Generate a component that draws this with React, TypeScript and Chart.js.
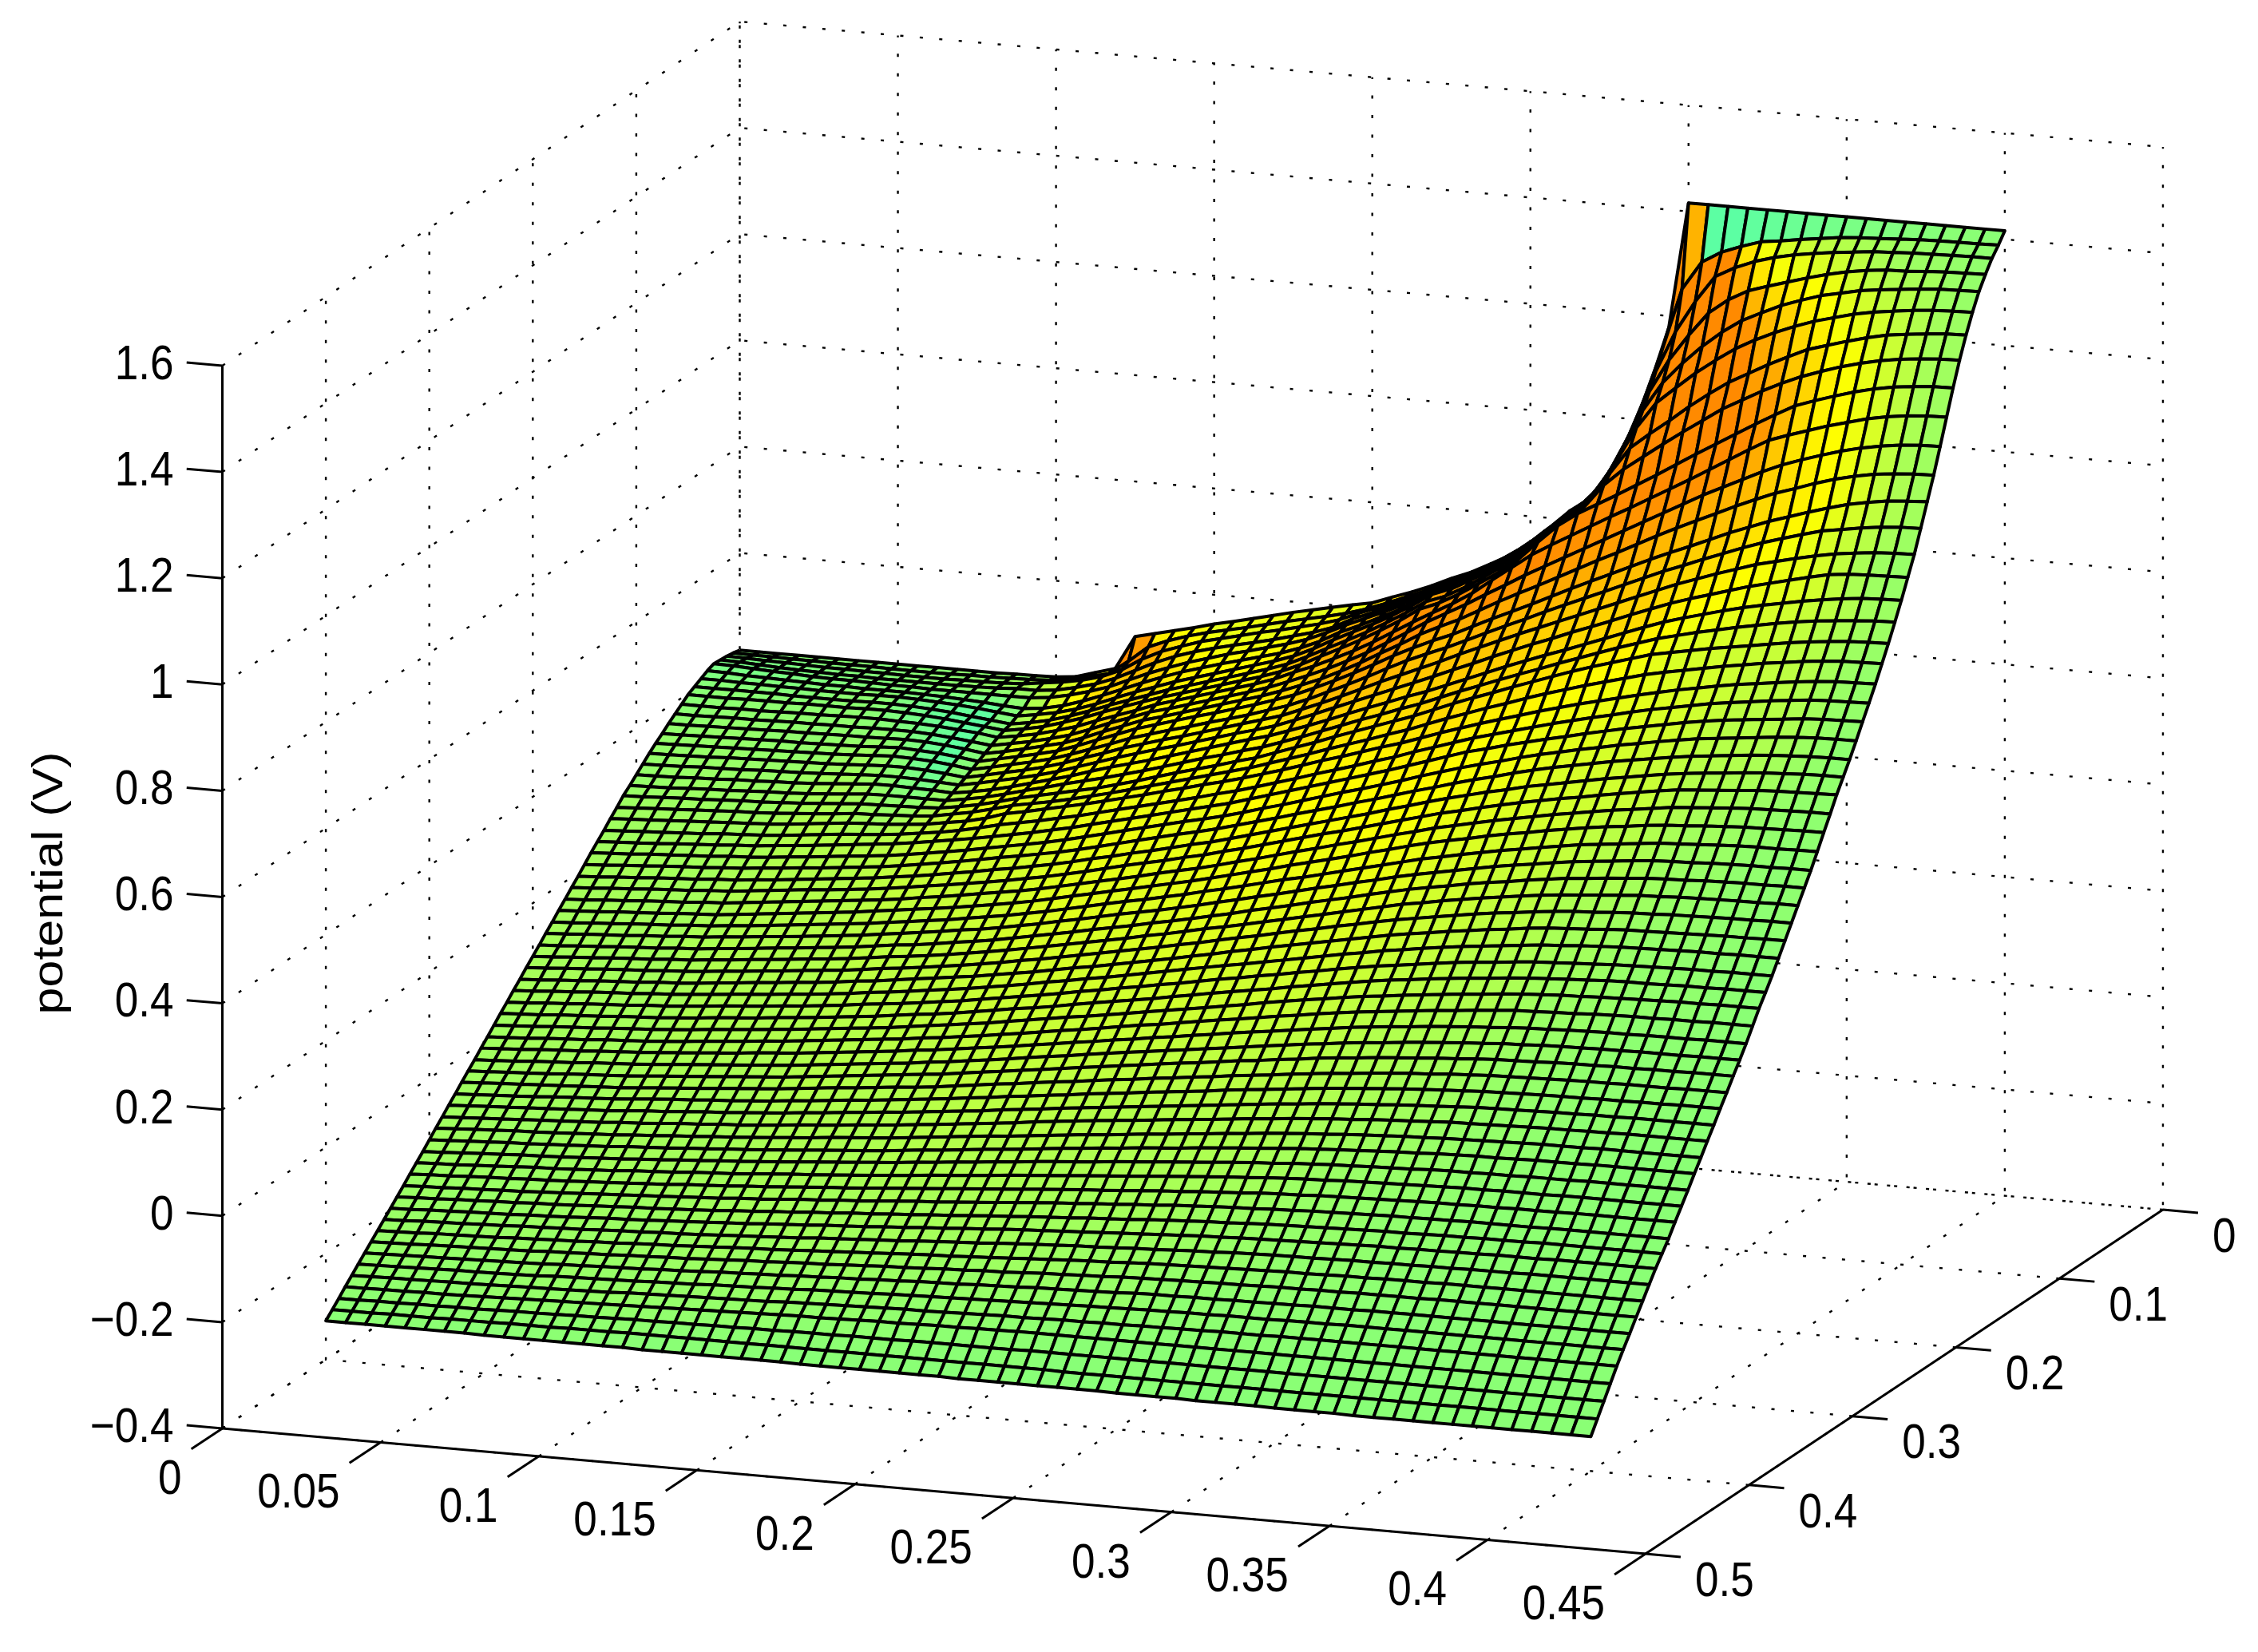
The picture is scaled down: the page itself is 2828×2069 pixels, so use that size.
import { useEffect, useRef } from 'react';
import { Chart, registerables } from 'chart.js';

Chart.register(...registerables);

const WIDTH = 2828;
const HEIGHT = 2069;

const xTicks = [0, 0.05, 0.1, 0.15, 0.2, 0.25, 0.3, 0.35, 0.4, 0.45];
const xTickLabels = ['0', '0.05', '0.1', '0.15', '0.2', '0.25', '0.3', '0.35', '0.4', '0.45'];
const yTicks = [0, 0.1, 0.2, 0.3, 0.4, 0.5];
const yTickLabels = ['0', '0.1', '0.2', '0.3', '0.4', '0.5'];
const zTicks = [-0.4, -0.2, 0, 0.2, 0.4, 0.6, 0.8, 1, 1.2, 1.4, 1.6];
const zTickLabels = ['\u22120.4', '\u22120.2', '0', '0.2', '0.4', '0.6', '0.8', '1', '1.2', '1.4', '1.6'];

const xGrid = [
  0, 0.00625, 0.0125, 0.01875, 0.025, 0.03125, 0.0375, 0.04375, 0.05, 0.05625, 0.0625, 0.06875, 0.075, 0.08125, 0.0875, 0.09375,
  0.1, 0.10625, 0.1125, 0.11875, 0.125, 0.13125, 0.1375, 0.14375, 0.15, 0.15625, 0.1625, 0.16875, 0.175, 0.18125, 0.1875, 0.19375,
  0.2, 0.20625, 0.2125, 0.21875, 0.225, 0.23125, 0.2375, 0.24375, 0.25, 0.25625, 0.2625, 0.26875, 0.275, 0.28125, 0.2875, 0.29375,
  0.3, 0.30625, 0.3125, 0.31875, 0.325, 0.33125, 0.3375, 0.34375, 0.35, 0.35625, 0.3625, 0.36875, 0.375, 0.38125, 0.3875, 0.39375, 0.4,
];
const yGrid = xGrid;

// potential in mV, one row per yGrid value, estimated from the mesh
const potentialRows = [
  [417,417,417,417,417,417,417,417,417,417,417,417,417,417,418,418,419,423,434,445,508,517,526,535,545,553,562,571,580,588,596,604,611,625,638,653,670,685,704,724,750,783,817,843,898,969,1062,1178,1416,1416,1416,1416,1416,1416,1416,1416,1416,1416,1416,1416,1416,1416,1416,1416,1416],
  [420,419,419,418,418,417,417,417,416,416,416,416,417,417,418,419,421,426,434,443,470,500,515,527,537,545,553,562,571,579,587,596,607,621,636,651,668,686,706,726,750,782,812,842,880,950,1040,1145,1262,1316,1338,1352,1364,1369,1375,1380,1385,1388,1390,1392,1394,1395,1396,1396,1397],
  [422,421,420,419,418,417,417,416,416,415,415,415,416,416,417,419,424,429,436,446,462,485,503,516,528,537,546,555,563,572,581,592,608,622,638,654,670,690,708,728,752,780,810,842,875,938,1015,1112,1190,1250,1300,1320,1335,1346,1354,1360,1365,1369,1373,1375,1377,1378,1379,1380,1380],
  [423,422,420,418,417,416,415,415,414,414,414,414,414,415,416,418,418,422,430,440,454,472,490,505,517,527,536,544,553,563,573,586,605,620,636,652,670,692,710,730,752,778,808,843,872,925,998,1082,1145,1195,1240,1268,1288,1300,1311,1322,1332,1340,1346,1350,1351,1354,1356,1357,1358],
  [424,423,421,419,418,416,415,415,414,413,413,412,412,412,412,412,412,416,424,434,446,462,478,492,505,516,527,536,546,556,568,584,602,618,634,651,670,692,710,730,752,776,805,840,868,915,980,1055,1110,1150,1185,1215,1240,1258,1275,1288,1300,1308,1316,1321,1325,1329,1332,1333,1334],
  [419,418,416,415,414,413,412,412,411,411,411,410,409,407,405,402,400,404,412,424,438,453,468,482,495,506,517,527,537,547,560,576,596,612,630,648,669,692,708,728,750,774,802,838,868,907,965,1030,1080,1112,1143,1170,1195,1215,1232,1247,1260,1270,1280,1287,1292,1297,1300,1302,1303],
  [412,412,411,411,410,410,409,409,409,410,410,409,407,405,402,398,394,400,407,417,430,445,459,472,485,496,507,518,529,540,553,570,590,608,626,646,668,692,706,726,748,772,800,836,868,898,950,1000,1030,1058,1088,1115,1140,1160,1180,1198,1215,1226,1237,1247,1255,1260,1264,1267,1268],
  [405,405,405,405,405,404,404,404,404,405,405,404,402,399,395,391,387,393,401,412,425,439,452,465,478,489,500,511,522,533,546,563,582,600,619,640,662,686,700,720,744,768,796,832,866,890,935,968,995,1022,1048,1073,1098,1118,1138,1156,1172,1185,1197,1207,1215,1221,1225,1228,1229],
  [398,398,398,399,399,399,400,400,400,401,401,400,398,395,391,387,383,389,397,408,420,434,447,460,472,483,494,505,516,527,540,556,575,593,612,633,655,680,695,715,738,762,790,826,860,886,907,928,950,972,995,1018,1040,1062,1084,1105,1125,1138,1150,1161,1170,1177,1181,1184,1185],
  [388,388,388,389,389,390,391,391,392,393,393,392,391,389,386,383,378,384,391,401,412,426,439,452,466,477,488,499,510,521,534,550,565,582,600,620,642,664,685,705,728,756,783,810,832,853,874,895,915,936,957,978,1000,1022,1044,1065,1078,1090,1102,1112,1122,1129,1134,1137,1138],
  [378,378,379,380,380,381,382,382,383,383,384,384,384,382,379,375,371,378,385,394,404,418,433,446,460,470,481,492,503,514,526,540,555,571,589,608,630,652,675,695,715,737,758,780,800,820,840,860,880,900,920,940,960,978,996,1014,1030,1043,1055,1066,1075,1082,1087,1090,1091],
  [368,368,369,370,371,372,373,373,374,375,375,376,377,376,373,369,364,371,379,388,397,410,425,439,453,463,474,485,496,507,518,531,545,560,578,597,618,638,660,678,695,715,735,754,772,791,810,829,847,866,885,903,920,937,954,970,985,997,1010,1021,1030,1037,1041,1044,1045],
  [357,358,359,360,361,362,363,363,364,365,366,368,370,368,366,362,357,365,373,381,390,403,417,431,445,456,467,478,488,499,510,522,535,551,568,586,605,625,643,660,675,693,711,728,745,763,781,798,815,832,849,865,880,896,912,926,940,952,964,975,985,992,998,1001,1003],
  [347,348,349,350,351,352,353,354,355,356,358,360,362,361,359,355,350,358,366,374,383,395,408,421,435,446,457,467,478,488,499,511,523,538,555,572,590,609,627,643,658,675,692,709,725,742,758,774,790,806,822,838,852,867,881,895,908,919,930,940,946,952,957,960,961],
  [336,337,338,339,341,342,343,344,345,346,348,350,352,352,350,347,343,351,359,367,376,387,400,412,425,436,447,457,468,479,490,501,512,527,542,558,575,592,608,624,640,657,673,689,705,720,735,750,765,780,795,810,825,838,851,863,875,884,893,901,908,913,917,919,920],
  [324,325,326,328,329,330,332,333,334,336,338,340,342,342,341,339,337,344,352,360,369,379,391,403,415,426,437,447,458,469,480,490,501,515,530,545,560,575,590,605,620,636,651,667,682,697,711,726,740,754,769,783,797,809,820,831,842,851,860,869,877,881,883,884,885],
  [312,313,314,316,317,319,320,322,323,325,328,331,334,334,333,332,330,336,343,352,362,372,382,394,405,415,425,436,447,458,469,480,490,503,516,530,545,559,573,587,600,615,630,645,660,674,688,701,715,729,743,757,770,781,791,801,810,818,825,832,838,843,847,849,850],
  [300,301,302,304,306,307,309,311,312,314,317,320,323,324,324,324,324,330,337,346,356,365,375,384,393,403,413,424,435,446,456,467,477,490,503,517,531,545,558,572,585,600,615,629,643,657,670,684,697,710,723,735,747,756,765,773,781,788,795,801,806,810,813,816,817],
  [289,290,292,294,295,297,299,300,302,304,307,310,313,314,315,316,318,324,331,340,350,358,366,374,382,392,402,413,424,434,444,455,465,478,491,504,518,531,544,557,570,585,600,614,627,641,654,667,680,692,703,714,725,732,739,746,752,758,764,770,775,779,782,784,785],
  [275,277,279,281,283,285,287,288,290,293,296,299,303,304,306,308,311,318,325,334,344,351,358,366,375,384,394,404,414,424,434,444,454,466,478,490,503,515,527,540,552,566,580,593,606,618,631,643,654,665,675,685,695,703,710,717,724,730,736,741,746,750,753,754,755],
  [262,264,266,268,270,272,274,276,278,281,285,289,293,295,297,300,304,310,316,325,337,344,352,360,368,377,386,395,405,414,424,433,443,454,465,477,489,500,512,524,535,548,561,573,585,596,607,618,628,638,647,656,665,673,681,688,695,701,706,711,716,720,723,724,725],
  [248,250,252,254,256,258,261,263,265,268,272,276,280,283,286,290,295,300,307,315,324,331,338,346,354,363,372,381,390,399,408,418,427,438,449,460,472,483,494,506,517,530,542,554,566,576,586,596,606,615,624,632,641,649,656,663,670,675,680,685,689,693,695,696,697],
  [235,237,239,241,244,246,248,251,253,257,260,264,268,272,276,280,285,291,297,303,310,317,324,332,340,349,358,367,376,385,394,403,412,423,434,445,456,467,478,489,500,512,524,536,548,557,567,576,585,593,602,610,618,625,632,639,645,650,654,658,662,666,668,669,670],
  [222,224,226,229,231,233,235,238,240,243,247,250,254,258,262,266,271,277,283,289,296,303,310,317,325,334,343,352,361,370,379,387,396,406,417,427,438,449,460,470,481,492,504,515,526,536,545,555,564,572,580,587,595,601,608,614,620,624,628,632,636,639,641,642,642],
  [208,210,213,215,218,220,222,225,227,231,234,238,241,245,249,253,258,264,270,276,283,290,296,303,310,318,327,336,345,354,363,371,380,390,400,410,421,431,441,452,462,473,484,494,505,515,524,534,543,551,558,565,572,578,584,590,595,599,603,607,610,612,614,615,615],
  [194,196,199,201,204,206,208,211,213,217,220,224,228,232,236,240,245,250,256,262,268,275,281,288,295,303,312,320,329,337,346,355,363,373,383,393,403,413,423,433,443,454,464,475,485,494,503,511,520,527,534,541,548,554,560,566,571,575,578,582,585,587,589,590,590],
  [181,183,186,188,191,193,195,198,200,204,208,212,216,219,223,227,232,237,243,248,254,260,266,273,280,288,296,305,314,322,330,339,347,357,366,376,386,396,406,415,425,435,445,455,465,473,482,490,498,505,512,518,525,531,537,543,548,551,554,557,560,562,563,564,565],
  [167,169,172,174,177,179,181,184,186,190,194,198,202,206,210,214,218,223,229,234,240,246,252,258,265,273,281,289,297,305,314,322,330,339,349,358,368,378,387,397,406,416,426,435,445,453,461,469,476,483,490,496,502,508,513,518,523,526,529,532,534,535,536,537,537],
  [154,156,158,161,163,165,168,170,172,176,180,184,188,192,196,200,205,210,215,220,225,231,237,243,250,258,266,274,282,290,298,306,314,323,332,341,350,360,369,378,387,397,406,416,425,433,440,448,455,461,468,474,480,485,489,494,498,500,503,505,507,508,509,510,510],
  [140,142,145,147,150,152,154,157,159,163,166,170,174,178,182,186,190,195,200,205,210,216,222,228,235,242,250,258,266,274,281,289,297,306,314,323,332,341,349,358,367,376,385,394,403,410,418,425,432,438,444,450,456,460,464,468,472,474,476,478,480,481,481,482,482],
  [127,129,132,134,136,139,141,144,146,150,153,157,160,164,168,172,176,181,186,191,196,202,207,213,220,227,235,242,250,258,265,272,280,288,297,305,314,322,331,340,348,357,365,374,382,389,396,403,410,416,421,427,432,436,440,444,447,449,450,452,453,454,454,455,455],
  [113,115,118,120,123,125,127,130,132,136,139,143,147,150,154,158,162,167,172,176,181,187,192,198,205,212,219,226,234,241,248,256,263,271,279,287,296,304,312,321,329,337,346,354,362,369,375,382,388,393,399,404,409,412,416,419,422,424,425,427,428,429,429,430,430],
  [100,102,105,107,110,112,114,117,119,123,126,130,133,137,141,144,148,153,158,162,167,172,178,184,190,197,204,211,218,225,232,240,247,255,263,270,278,286,294,302,310,318,326,334,342,348,355,361,367,372,377,382,386,389,392,395,398,399,401,402,403,404,404,405,405],
  [87,89,92,94,97,99,101,104,106,109,113,116,120,123,127,131,134,139,144,148,153,158,163,169,175,182,188,195,202,209,216,223,230,238,245,253,261,268,276,284,291,299,306,314,321,327,333,339,345,350,354,359,363,366,368,371,373,374,376,377,378,379,379,380,380],
  [73,75,78,80,83,85,87,90,92,95,99,102,106,109,113,116,120,125,129,134,139,144,149,154,160,166,172,179,186,192,199,206,213,220,228,235,243,250,258,265,272,279,286,293,300,306,311,317,322,327,331,336,340,342,344,347,349,350,351,352,353,354,354,355,355],
  [60,62,65,67,70,72,74,77,79,82,85,89,92,95,99,102,106,110,115,119,124,129,134,139,145,151,157,164,170,177,183,190,197,204,211,218,225,231,238,245,252,259,266,272,279,284,290,295,300,304,308,312,316,318,321,323,325,326,327,328,329,329,330,330,330],
  [46,48,51,53,56,58,60,63,65,68,71,75,78,81,85,88,92,96,101,105,109,114,119,124,130,136,142,148,154,161,167,174,180,187,193,200,207,213,220,226,233,239,246,252,258,263,268,273,278,282,285,289,292,294,296,298,300,301,302,303,304,304,305,305,305],
  [33,35,37,40,42,44,47,49,51,54,57,61,64,67,71,74,78,82,86,90,95,100,104,109,115,121,127,132,138,145,151,157,163,169,176,182,189,195,201,207,214,220,226,232,238,243,247,252,256,260,263,267,270,272,274,276,278,279,279,280,281,281,282,282,282],
  [19,21,23,26,28,30,33,35,37,40,43,47,50,53,57,60,64,68,72,76,80,85,90,95,100,105,111,117,123,129,134,140,146,152,158,164,170,176,182,189,195,201,206,212,217,221,226,230,234,238,241,245,248,250,252,253,255,256,257,258,259,259,260,260,260],
  [5,7,9,12,14,16,19,21,23,26,29,33,36,39,43,46,50,54,58,62,66,70,75,79,84,89,95,100,106,112,117,123,129,135,140,146,152,158,163,169,175,180,186,191,196,200,204,208,212,215,219,222,225,226,228,229,231,232,233,233,234,234,235,235,235],
  [-8,-6,-4,-1,1,3,6,8,10,13,16,19,22,25,29,32,35,39,43,47,51,55,60,64,69,74,79,84,90,95,101,106,112,117,123,128,134,139,145,150,155,160,165,170,175,179,183,186,190,193,196,198,201,203,204,206,207,208,208,209,209,209,210,210,210],
  [-22,-20,-18,-15,-13,-11,-8,-6,-4,-1,2,5,8,11,14,17,20,24,28,32,36,40,44,49,53,58,63,68,74,79,84,90,95,100,105,110,115,120,125,130,135,140,145,149,154,158,161,165,168,171,174,176,179,180,182,183,184,185,185,186,186,186,187,187,187],
  [-35,-33,-31,-29,-27,-24,-22,-20,-18,-15,-12,-9,-6,-3,0,3,6,10,14,18,22,26,30,34,38,43,48,53,58,63,68,73,78,83,88,93,98,102,107,112,116,121,125,130,134,137,141,144,147,150,152,155,157,158,159,161,162,162,163,163,164,164,165,165,165],
  [-48,-46,-44,-42,-40,-38,-36,-34,-32,-29,-26,-23,-20,-17,-14,-11,-8,-4,0,4,7,11,15,18,22,27,32,37,41,46,51,55,60,65,69,74,78,83,87,92,96,100,105,109,113,116,120,123,126,128,131,133,135,136,137,138,139,140,140,141,141,141,142,142,142],
  [-62,-60,-58,-56,-54,-51,-49,-47,-45,-42,-39,-36,-34,-31,-29,-26,-23,-19,-16,-12,-8,-5,-1,3,7,11,16,20,25,29,34,38,43,47,51,56,60,64,68,73,77,81,85,89,93,96,99,102,105,107,109,111,113,114,115,116,117,117,118,118,119,119,120,120,120],
  [-75,-73,-71,-69,-67,-65,-63,-61,-59,-56,-53,-51,-48,-45,-43,-40,-37,-34,-30,-27,-23,-20,-16,-13,-9,-5,-1,3,8,12,16,21,25,29,33,37,41,45,49,53,57,61,65,68,72,75,78,80,83,85,87,89,91,92,93,94,95,95,96,96,97,97,97,97,97],
  [-89,-87,-85,-83,-81,-79,-77,-75,-73,-70,-68,-65,-62,-60,-57,-55,-52,-49,-45,-42,-39,-35,-32,-29,-25,-21,-17,-13,-9,-5,0,4,8,12,16,19,23,27,31,34,38,42,45,49,52,55,57,60,62,64,66,68,69,70,71,72,73,73,74,74,75,75,75,75,75],
  [-102,-100,-98,-96,-94,-93,-91,-89,-87,-85,-82,-80,-77,-75,-72,-70,-67,-64,-61,-58,-54,-51,-48,-45,-41,-37,-33,-29,-25,-22,-18,-14,-10,-6,-3,1,5,8,12,15,19,22,26,29,32,34,37,39,41,43,44,46,47,48,49,50,51,51,51,52,52,52,52,52,52],
  [-116,-114,-112,-110,-108,-107,-105,-103,-101,-99,-96,-94,-92,-89,-87,-84,-82,-79,-76,-73,-70,-67,-64,-61,-57,-53,-50,-46,-42,-39,-35,-31,-27,-24,-20,-17,-13,-10,-7,-3,0,3,6,9,12,14,16,18,20,22,23,25,26,27,27,28,29,29,29,30,30,30,30,30,30],
  [-130,-128,-126,-124,-122,-120,-119,-117,-115,-113,-111,-108,-106,-103,-101,-98,-96,-93,-90,-87,-84,-81,-78,-75,-72,-68,-65,-61,-58,-54,-51,-47,-44,-41,-38,-34,-31,-28,-25,-22,-19,-16,-13,-11,-8,-6,-4,-3,-1,0,1,3,4,4,5,5,6,6,6,7,7,7,7,7,7],
  [-143,-141,-140,-138,-136,-134,-132,-131,-129,-127,-125,-122,-120,-118,-115,-113,-111,-108,-105,-102,-100,-97,-94,-91,-88,-85,-81,-78,-75,-72,-68,-65,-62,-59,-56,-53,-50,-47,-44,-41,-38,-35,-33,-30,-28,-26,-25,-23,-22,-21,-20,-19,-18,-17,-17,-16,-16,-16,-15,-15,-15,-15,-15,-15,-15],
  [-156,-154,-153,-151,-149,-148,-146,-145,-143,-141,-139,-137,-135,-133,-130,-128,-126,-123,-121,-118,-115,-112,-110,-107,-104,-101,-98,-95,-92,-89,-86,-83,-80,-77,-74,-72,-69,-66,-63,-61,-58,-56,-54,-51,-49,-48,-46,-45,-44,-43,-42,-41,-40,-40,-39,-39,-38,-38,-38,-37,-37,-37,-37,-37,-37],
  [-170,-168,-167,-165,-164,-162,-161,-159,-157,-155,-153,-151,-149,-147,-145,-143,-141,-138,-136,-133,-130,-128,-125,-123,-120,-117,-114,-112,-109,-106,-103,-100,-97,-94,-92,-89,-87,-84,-82,-79,-77,-75,-73,-72,-70,-69,-67,-66,-65,-64,-63,-63,-62,-62,-61,-61,-61,-61,-60,-60,-60,-60,-60,-60,-60],
  [-183,-181,-180,-178,-177,-175,-174,-172,-171,-169,-167,-165,-163,-162,-160,-158,-156,-153,-151,-148,-146,-143,-141,-138,-136,-133,-131,-128,-126,-123,-120,-118,-115,-113,-111,-108,-106,-104,-101,-99,-97,-95,-94,-92,-90,-89,-88,-87,-86,-85,-84,-84,-83,-82,-82,-81,-81,-81,-80,-80,-80,-80,-80,-80,-80],
  [-196,-195,-193,-192,-190,-189,-188,-186,-185,-183,-181,-179,-178,-176,-174,-172,-170,-168,-166,-163,-161,-159,-156,-154,-152,-149,-147,-144,-142,-139,-137,-134,-132,-130,-128,-126,-124,-122,-120,-118,-116,-114,-113,-111,-110,-109,-108,-107,-106,-105,-104,-104,-103,-103,-102,-102,-101,-101,-101,-100,-100,-100,-100,-100,-100],
  [-209,-208,-206,-205,-204,-202,-201,-199,-198,-196,-195,-193,-191,-190,-188,-187,-185,-183,-181,-179,-177,-175,-172,-170,-168,-166,-164,-161,-159,-157,-155,-152,-150,-148,-146,-144,-143,-141,-139,-138,-136,-134,-133,-131,-130,-129,-128,-128,-127,-126,-126,-125,-125,-124,-124,-123,-123,-123,-122,-122,-122,-122,-122,-122,-122],
  [-222,-221,-220,-218,-217,-216,-215,-213,-212,-210,-209,-207,-206,-204,-202,-201,-199,-197,-195,-193,-192,-190,-188,-186,-184,-182,-180,-178,-176,-175,-173,-171,-169,-167,-165,-163,-161,-160,-158,-156,-155,-154,-153,-152,-151,-150,-149,-149,-148,-147,-147,-146,-146,-146,-145,-145,-145,-145,-145,-145,-145,-145,-145,-145,-145],
  [-235,-234,-233,-231,-230,-229,-228,-227,-226,-224,-223,-221,-220,-218,-217,-215,-214,-212,-210,-208,-207,-205,-203,-202,-200,-198,-196,-195,-193,-191,-190,-188,-187,-185,-183,-182,-180,-179,-177,-176,-175,-174,-173,-172,-172,-171,-170,-170,-169,-169,-168,-168,-168,-168,-167,-167,-167,-167,-167,-167,-167,-167,-167,-167,-167],
  [-248,-247,-246,-245,-244,-243,-242,-241,-240,-239,-237,-236,-234,-233,-232,-230,-229,-227,-225,-224,-222,-221,-219,-218,-216,-215,-213,-212,-210,-209,-208,-206,-205,-204,-202,-201,-200,-199,-198,-196,-195,-195,-194,-194,-193,-193,-192,-192,-191,-191,-191,-190,-190,-190,-190,-190,-190,-190,-190,-190,-190,-190,-190,-190,-190],
  [-261,-260,-259,-258,-257,-256,-256,-255,-254,-253,-251,-250,-249,-248,-247,-245,-244,-243,-241,-240,-239,-237,-236,-234,-233,-232,-231,-229,-228,-227,-226,-225,-224,-223,-222,-221,-220,-219,-218,-217,-216,-216,-215,-215,-214,-214,-214,-213,-213,-213,-212,-212,-212,-212,-212,-212,-212,-212,-212,-212,-212,-212,-212,-212,-212],
  [-274,-273,-272,-272,-271,-270,-270,-269,-268,-267,-266,-265,-264,-263,-261,-260,-259,-258,-257,-256,-255,-254,-252,-251,-250,-249,-248,-247,-246,-246,-245,-244,-243,-242,-242,-241,-240,-240,-239,-239,-238,-238,-237,-237,-236,-236,-236,-235,-235,-235,-235,-235,-235,-235,-235,-235,-235,-235,-235,-235,-235,-235,-235,-235,-235],
  [-287,-287,-286,-286,-285,-285,-284,-283,-282,-281,-280,-279,-278,-277,-276,-275,-274,-273,-272,-271,-270,-269,-268,-267,-267,-266,-265,-264,-264,-263,-262,-262,-261,-261,-260,-260,-260,-260,-260,-260,-260,-260,-260,-260,-260,-260,-260,-260,-260,-260,-260,-260,-260,-260,-260,-260,-260,-260,-260,-260,-260,-260,-260,-260,-260],
  [-301,-301,-300,-300,-299,-299,-298,-298,-297,-296,-296,-295,-294,-294,-293,-292,-292,-291,-291,-290,-290,-289,-289,-288,-288,-288,-287,-287,-287,-286,-286,-286,-286,-286,-286,-285,-285,-285,-285,-285,-285,-285,-285,-285,-285,-285,-285,-285,-285,-285,-285,-285,-285,-285,-285,-285,-285,-285,-285,-285,-285,-285,-285,-285,-285],
  [-314,-314,-314,-313,-313,-313,-312,-312,-312,-311,-311,-311,-310,-310,-310,-309,-309,-309,-309,-309,-309,-309,-309,-309,-309,-309,-309,-309,-309,-309,-309,-309,-309,-309,-309,-309,-309,-310,-310,-310,-310,-310,-310,-310,-310,-310,-310,-310,-310,-310,-310,-310,-310,-310,-310,-310,-310,-310,-310,-310,-310,-310,-310,-310,-310],
  [-327,-327,-327,-327,-327,-327,-327,-327,-328,-328,-328,-328,-328,-328,-328,-328,-329,-329,-329,-329,-329,-329,-329,-329,-330,-330,-330,-330,-330,-330,-330,-330,-331,-331,-331,-331,-331,-331,-331,-331,-332,-332,-332,-332,-333,-333,-333,-333,-334,-334,-334,-334,-335,-335,-335,-335,-335,-335,-335,-335,-335,-335,-335,-335,-335],
];

// colour of the contact row, left to right from x = 0.3
const contactColors = [0.7, 0.465, 0.465, 0.47, 0.475, 0.48, 0.485, 0.49, 0.495, 0.5, 0.5, 0.505, 0.505, 0.51, 0.51, 0.51];

// view of the box: origin at x=0, y=0.5, z=-0.4, in canvas pixels
function project(x: number, y: number, z: number) {
  return {
    x: 278.5 + 3961 * x + 1296 * (0.5 - y),
    y: 1789 + 349 * x - 862 * (0.5 - y) - 665.5 * (z + 0.4),
  };
}

function jet(t: number) {
  const c = (v: number) => Math.round(255 * Math.max(0, Math.min(1, v)));
  const r = c(Math.min(4 * t - 1.5, 4.5 - 4 * t));
  const g = c(Math.min(4 * t - 0.5, 3.5 - 4 * t));
  const b = c(Math.min(4 * t + 0.5, 2.5 - 4 * t));
  return `rgb(${r},${g},${b})`;
}

// the reference colours the faces by the slope along x
function cellColor(i: number, j: number) {
  if (j === 0 && i >= 48) return jet(contactColors[i - 48]);
  const a = potentialRows[j];
  const b = potentialRows[j + 1];
  const lo = j === 0 ? i : Math.max(0, i - 1);
  const hi = j === 0 ? i + 1 : Math.min(xGrid.length - 1, i + 2);
  const slope = (a[hi] + b[hi] - a[lo] - b[lo]) / 2 / 1000 / (xGrid[hi] - xGrid[lo]);
  return jet(Math.max(0.46, Math.min(0.74, 0.51 + 0.068 * slope)));
}

const lineBase = { pointRadius: 0, tension: 0, clip: false as const };

function buildDatasets() {
  const sets: any[] = [];
  const solid = (pts: number[][]) =>
    sets.push({ ...lineBase, data: pts.map((p) => project(p[0], p[1], p[2])), borderColor: '#000', borderWidth: 3, fill: false });

  solid([[0, 0.5, -0.4], [0, 0.5, 1.6]]);
  solid([[0, 0.5, -0.4], [0.45, 0.5, -0.4]]);
  solid([[0.45, 0.5, -0.4], [0.45, 0, -0.4]]);
  zTicks.forEach((t) => solid([[0, 0.5, t], [-0.0113, 0.5, t]]));
  xTicks.forEach((t) => solid([[t, 0.5, -0.4], [t, 0.53, -0.4]]));
  yTicks.forEach((t) => solid([[0.45, t, -0.4], [0.4611, t, -0.4]]));

  // first dataset is painted last, so the nearest cell goes in first
  for (let j = yGrid.length - 2; j >= 0; j--) {
    for (let i = xGrid.length - 2; i >= 0; i--) {
      const corner = (a: number, b: number) => project(xGrid[a], yGrid[b], potentialRows[b][a] / 1000);
      sets.push({
        ...lineBase,
        data: [corner(i, j), corner(i + 1, j), corner(i + 1, j + 1), corner(i, j + 1), corner(i, j)],
        borderColor: '#000',
        borderWidth: 4,
        borderJoinStyle: 'round',
        backgroundColor: cellColor(i, j),
        fill: 'shape',
      });
    }
  }

  const dotted = (pts: number[][]) =>
    sets.push({ ...lineBase, data: pts.map((p) => project(p[0], p[1], p[2])), borderColor: '#000', borderWidth: 2.4, borderDash: [4, 20.5], fill: false });
  xTicks.forEach((t) => dotted([[t, 0.5, -0.4], [t, 0, -0.4], [t, 0, 1.6]]));
  yTicks.forEach((t) => dotted([[0.45, t, -0.4], [0, t, -0.4], [0, t, 1.6]]));
  zTicks.forEach((t) => dotted([[0, 0.5, t], [0, 0, t], [0.45, 0, t]]));
  return sets;
}

const tickText = {
  id: 'tickText',
  afterDraw(chart: any) {
    const { ctx, scales } = chart;
    const put = (text: string, x: number, y: number, align: CanvasTextAlign, angle = 0) => {
      ctx.save();
      ctx.translate(scales.x.getPixelForValue(x), scales.y.getPixelForValue(y));
      ctx.rotate(angle);
      ctx.scale(angle ? 1 : 0.87, angle ? 0.87 : 1);
      ctx.textAlign = align;
      ctx.textBaseline = 'middle';
      ctx.fillStyle = '#000';
      ctx.font = '61px "Liberation Sans"';
      ctx.fillText(text, 0, 0);
      ctx.restore();
    };
    zTicks.forEach((t, n) => {
      const p = project(0, 0.5, t);
      put(zTickLabels[n], p.x - 61, p.y, 'right');
    });
    xTicks.forEach((t, n) => {
      const p = project(t, 0.5, -0.4);
      put(xTickLabels[n], p.x - 51, p.y + 65, 'right');
    });
    yTicks.forEach((t, n) => {
      const p = project(0.45, t, -0.4);
      put(yTickLabels[n], p.x + 62, p.y + 36, 'left');
    });
    put('potential (V)', 63, 1106, 'center', -Math.PI / 2);
  },
};

export default function App() {
  const canvasRef = useRef<HTMLCanvasElement>(null);

  useEffect(() => {
    document.body.style.margin = '0';
    if (!canvasRef.current) return;
    const chart = new Chart(canvasRef.current, {
      type: 'line',
      data: { datasets: buildDatasets() },
      options: {
        animation: false,
        responsive: false,
        devicePixelRatio: 1,
        events: [],
        layout: { padding: 0 },
        plugins: { legend: { display: false }, tooltip: { enabled: false } },
        scales: {
          x: { type: 'linear', display: false, min: 0, max: WIDTH },
          y: { type: 'linear', display: false, min: 0, max: HEIGHT, reverse: true },
        },
      },
      plugins: [tickText],
    } as any);
    return () => chart.destroy();
  }, []);

  return <canvas ref={canvasRef} width={WIDTH} height={HEIGHT} style={{ display: 'block', background: '#fff' }} />;
}
